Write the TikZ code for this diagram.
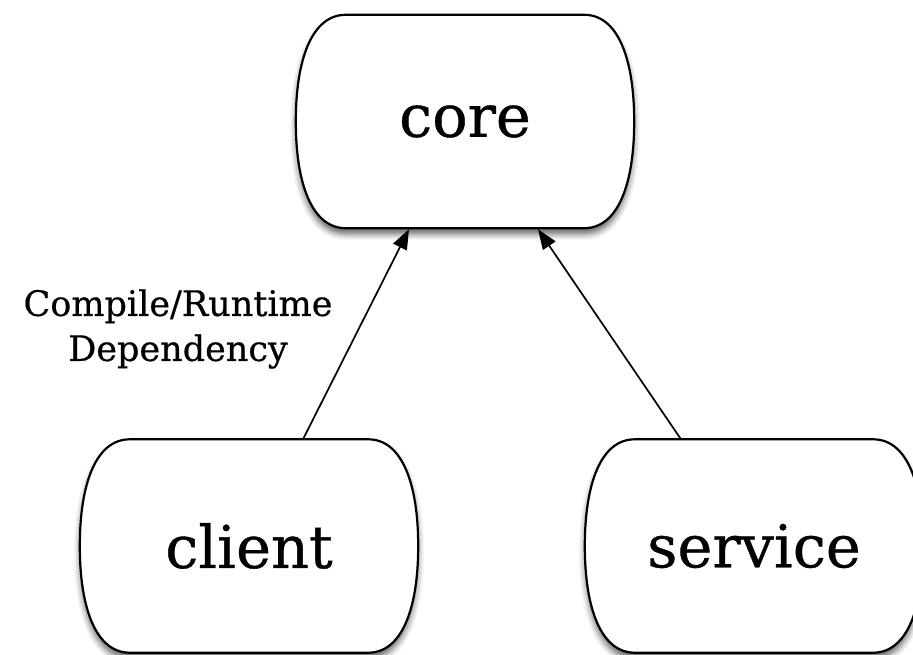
\documentclass[tikz,border=0pt]{standalone}
\usepackage{fontspec}
\setmainfont{DejaVu Serif}
\newfontfamily\twfont[FakeBold=0.6]{DejaVu Serif}
\usetikzlibrary{arrows.meta,calc,backgrounds,shadows.blur}
\tikzset{
  unit/.style={draw=none, minimum width=338pt, minimum height=213pt, inner sep=0pt,
    font=\twfont\fontsize{59}{64}\selectfont},
  outline/.style={draw=black, line width=2.2pt, fill=white,
    blur shadow={shadow xshift=0pt, shadow yshift=-6pt, shadow blur radius=6pt, shadow opacity=60}},
  dep/.style={draw=black, line width=1.7pt, -{Triangle[length=20pt,width=15pt]}},
  deplabel/.style={align=center, font=\twfont\fontsize{35}{45}\selectfont, inner sep=0pt}
}
\newcommand\bulgeoutline[1]{%
  \path[outline]
    ($(#1.north west)+(50,0)$) -- ($(#1.north east)+(-50,0)$)
    .. controls ($(#1.north east)+(-16,0)$) and ($(#1.east)+(0,-62)$) .. (#1.east)
    .. controls ($(#1.east)+(0,62)$) and ($(#1.south east)+(-16,0)$) .. ($(#1.south east)+(-50,0)$)
    -- ($(#1.south west)+(50,0)$)
    .. controls ($(#1.south west)+(16,0)$) and ($(#1.west)+(0,62)$) .. (#1.west)
    .. controls ($(#1.west)+(0,-62)$) and ($(#1.north west)+(16,0)$) .. cycle;}
\begin{document}
\begin{tikzpicture}[x=1pt,y=-1pt]
\useasboundingbox (0,0) rectangle (913,655);
\node[unit] (core) at (465,121.5) {core};
\node[unit] (client) at (249,546) {client};
\node[unit] (service) at (754,546) {service};
\begin{pgfonlayer}{background}
\bulgeoutline{core}
\bulgeoutline{client}
\bulgeoutline{service}
\end{pgfonlayer}
\node[deplabel] (lbl) at (178,329) {Compile/Runtime\\Dependency};
\draw[dep] ($(client.north)+(54,0)$) -- ($(core.south)+(-56,1)$);
\draw[dep] ($(service.north)+(-73,0)$) -- ($(core.south)+(73,1)$);
\end{tikzpicture}
\end{document}
